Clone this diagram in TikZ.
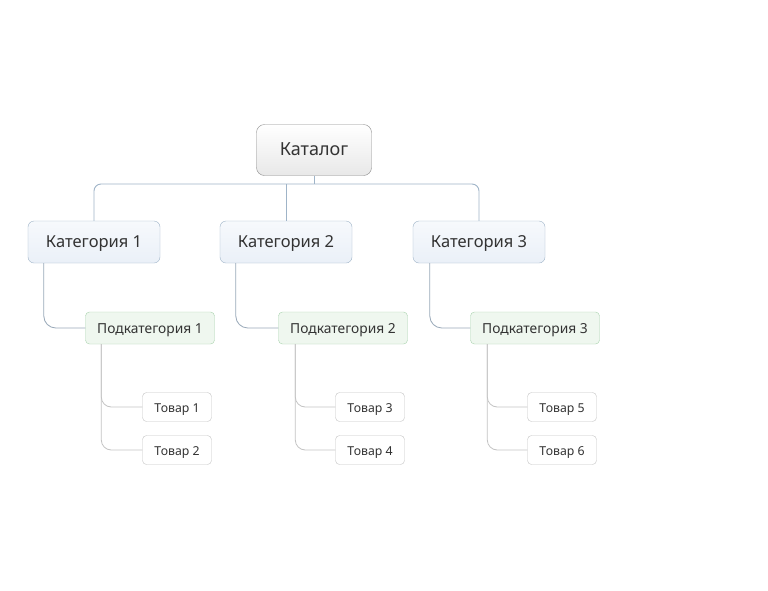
\documentclass[tikz,border=0pt]{standalone}
\usepackage{fontspec}
\setmainfont{Noto Sans}
\definecolor{rootline}{HTML}{8C8C8C}
\definecolor{catline}{HTML}{9FB4C8}
\definecolor{catfill}{HTML}{EAF0F8}
\definecolor{subline}{HTML}{A9D3AE}
\definecolor{subfill}{HTML}{EFF7EF}
\definecolor{itemline}{HTML}{C4C4C4}
\definecolor{textgray}{HTML}{333333}
\begin{document}
\begin{tikzpicture}[x=1pt,y=-1pt,
  every node/.style={text=textgray,text height=1.08em,text depth=0.05em},
  rootbox/.style={draw=rootline,rounded corners=8pt,top color=white,bottom color=black!9,
    minimum width=115pt,minimum height=51pt,font=\fontsize{18}{21}\selectfont},
  catbox/.style={draw=catline,rounded corners=6pt,top color=catfill!40,bottom color=catfill,
    minimum width=132pt,minimum height=42pt,font=\fontsize{16.5}{19}\selectfont},
  subbox/.style={draw=subline,rounded corners=4pt,fill=subfill,
    minimum width=129pt,minimum height=32pt,font=\fontsize{13.8}{16}\selectfont},
  itembox/.style={draw=itemline,rounded corners=4pt,fill=white,
    minimum width=69pt,minimum height=29pt,font=\fontsize{12.3}{15}\selectfont},
  catlink/.style={draw=catline,line width=0.9pt,rounded corners=7pt},
  sublink/.style={draw=catline!80!gray,line width=0.8pt,rounded corners=12pt},
  itemlink/.style={draw=itemline,line width=0.8pt,rounded corners=10pt}]
  \useasboundingbox[fill=white] (0,0) rectangle (768,590);
  \node[rootbox] (root) at (314,150) {Каталог};
  \node[catbox] (cat1) at (94,242) {Категория 1};
  \node[catbox] (cat2) at (286,242) {Категория 2};
  \node[catbox] (cat3) at (479,242) {Категория 3};
  \node[subbox] (sub1) at (150,328) {Подкатегория 1};
  \node[subbox] (sub2) at (343,328) {Подкатегория 2};
  \node[subbox] (sub3) at (535,328) {Подкатегория 3};
  \node[itembox] (item1) at (177,407) {Товар 1};
  \node[itembox] (item2) at (177,450) {Товар 2};
  \node[itembox] (item3) at (370,407) {Товар 3};
  \node[itembox] (item4) at (370,450) {Товар 4};
  \node[itembox] (item5) at (562,407) {Товар 5};
  \node[itembox] (item6) at (562,450) {Товар 6};
  \coordinate (hub) at (314,184);
  \draw[catlink] (root.south) -- (hub);
  \draw[catlink] (cat1.north) |- (hub) -| (cat3.north);
  \draw[catlink] (cat2.north) -- (cat2.north |- hub);
  \draw[sublink] (cat1.south west) ++(16,0) |- (sub1.west);
  \draw[sublink] (cat2.south west) ++(16,0) |- (sub2.west);
  \draw[sublink] (cat3.south west) ++(17,0) |- (sub3.west);
  \draw[itemlink] (sub1.south west) ++(16,0) |- (item1.west);
  \draw[itemlink] (sub1.south west) ++(16,0) |- (item2.west);
  \draw[itemlink] (sub2.south west) ++(17,0) |- (item3.west);
  \draw[itemlink] (sub2.south west) ++(17,0) |- (item4.west);
  \draw[itemlink] (sub3.south west) ++(17,0) |- (item5.west);
  \draw[itemlink] (sub3.south west) ++(17,0) |- (item6.west);
\end{tikzpicture}
\end{document}
